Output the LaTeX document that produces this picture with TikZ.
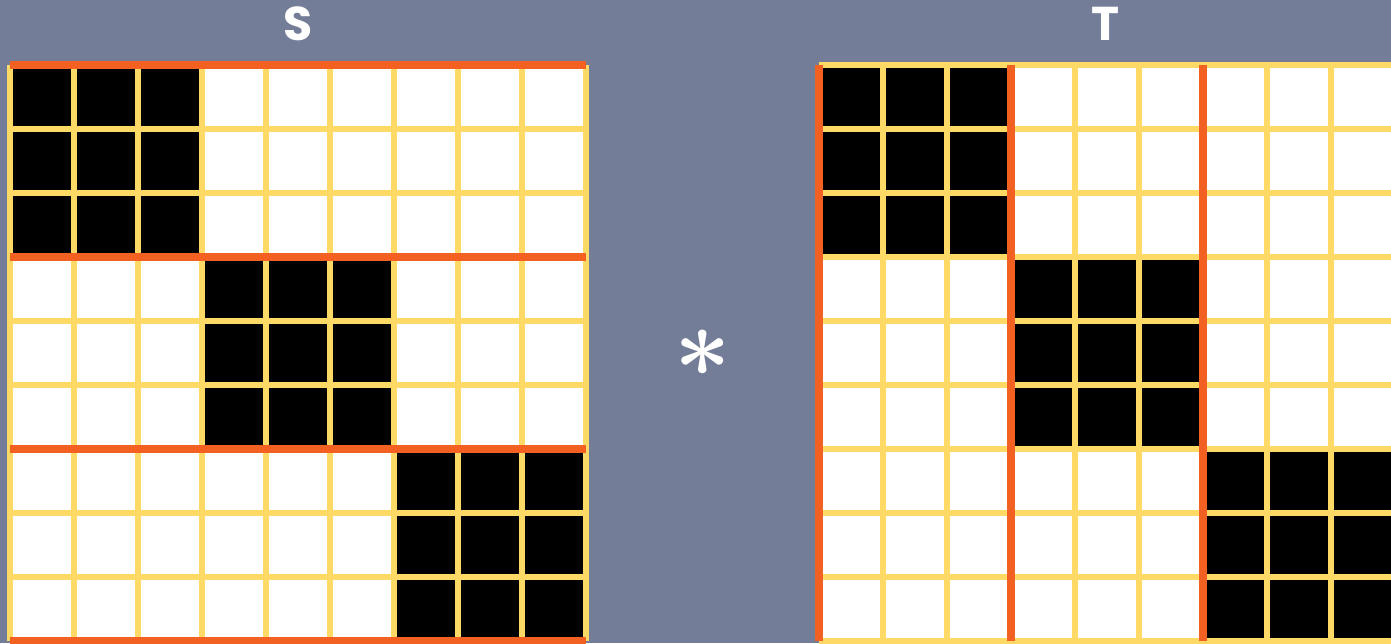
\documentclass[tikz,border=0pt]{standalone}
\usepackage{fontspec}
\usepackage{bm}
\newfontfamily\labelfont{Poppins}
\definecolor{slate}{RGB}{115, 125, 152}
\definecolor{gridyellow}{RGB}{255, 217, 102}
\definecolor{cutorange}{RGB}{242, 97, 34}
\usepackage{tikz}
\tikzset{
  gridline/.style={draw=gridyellow, line width=0.12cm},
  cutline/.style={draw=cutorange, line width=0.16cm},
  blockcell/.style={fill=black},
  matlabel/.style={text=white, font=\labelfont\bfseries\fontsize{27}{27}\selectfont, inner sep=0pt}
}

\begin{document}
\begin{tikzpicture}[x=0.02cm, y=-0.02cm]
  \fill[slate] (0,0) rectangle (1391,643);
  \useasboundingbox (0,0) rectangle (1391,643);
  \begin{scope}
  \clip (0,0) rectangle (1391,643);
  % the two block-diagonal matrices
  \foreach \xo/\name in {10/S, 819/T} {
    \fill[white] (\xo,65) rectangle ++(576,576);
    \foreach \k in {0,1,2}
      \fill[blockcell] (\xo+192*\k, 65+192*\k) rectangle ++(192,192);
    \foreach \i in {0,...,9} {
      \draw[gridline] (\xo+64*\i, 65) -- (\xo+64*\i, 641);
      \draw[gridline] (\xo, 65+64*\i) -- (\xo+576, 65+64*\i);
    }
  }
  % S is cut into row blocks, T into column blocks
  \foreach \k in {0,...,3} {
    \draw[cutline] (10, 65+192*\k) -- (586, 65+192*\k);
    \draw[cutline] (819+192*\k, 65) -- (819+192*\k, 641);
  }
  \end{scope}
  \node[matlabel] (labS) at (298,24) {S};
  \node[matlabel] (labT) at (1105,24) {T};
  \node[text=white, inner sep=0pt, font=\fontsize{10}{12}\selectfont, scale=5.6] (star) at (703,353) {$\bm{\ast}$};
\end{tikzpicture}
\end{document}
